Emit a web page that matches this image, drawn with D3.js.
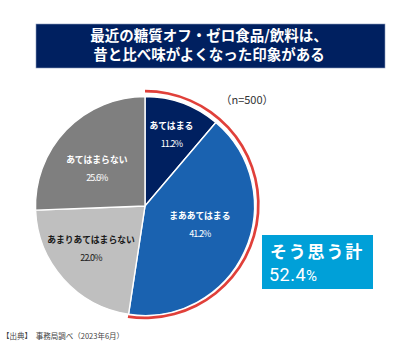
<!DOCTYPE html>
<html>
<head>
<meta charset="utf-8">
<script src="https://cdn.jsdelivr.net/npm/d3@7"></script>
<style>
  body { margin: 0; background: #fff; }
  svg { display: block; font-family: "Noto Sans CJK JP", "Noto Sans", sans-serif; }
</style>
</head>
<body>
<div id="graph"></div>
<script>
var W = 400, H = 354;

// data
var titleLines = ["最近の糖質オフ・ゼロ食品/飲料は、", "昔と比べ味がよくなった印象がある"];
var categories = ["あてはまる", "まああてはまる", "あまりあてはまらない", "あてはまらない"];
var values = [11.2, 41.2, 22.0, 25.6];
var totalLabel = "そう思う計";
var totalValue = 52.4;
var sampleNote = "（n=500）";
var sourceNote = "【出典】　事務局調べ（2023年6月）";

// style
var sliceColors = ["#002060", "#1a62b0", "#bfbfbf", "#7f7f7f"];
var labelColors = ["#fff", "#fff", "#1a1a1a", "#fff"];
var labelRadius = [0.70, 0.53, 0.63, 0.555];  // fraction of radius, tweaked by eye
var labelAngleShift = [0, -0.094, 0.058, -0.11];

var cx = 145, cy = 206, R = 109.5;

var svg = d3.select("#graph").append("svg")
  .attr("width", W)
  .attr("height", H);

// title box
svg.append("rect")
  .attr("x", 36).attr("y", 24)
  .attr("width", 349).attr("height", 44)
  .attr("fill", "#002060")
  .attr("stroke", "#8a9bbd").attr("stroke-width", 0.6);

svg.selectAll("text.title")
  .data(titleLines)
  .enter().append("text")
    .attr("class", "title")
    .attr("x", 209)
    .attr("y", function(d, i) { return 41 + i * 19; })
    .attr("text-anchor", "middle")
    .attr("fill", "#fff")
    .attr("font-size", 14.5)
    .attr("font-weight", "bold")
    .text(function(d) { return d; });

// pie
var pie = d3.pie().sort(null).value(function(d) { return d; });
var arcs = pie(values);
var arc = d3.arc().innerRadius(0).outerRadius(R);

var g = svg.append("g").attr("transform", "translate(" + cx + "," + cy + ")");

g.selectAll("path.slice")
  .data(arcs)
  .enter().append("path")
    .attr("class", "slice")
    .attr("d", arc)
    .attr("fill", function(d, i) { return sliceColors[i]; })
    .attr("stroke", "#fff")
    .attr("stroke-width", 1.4)
    .attr("stroke-linejoin", "round");

// red arc round the "agree" share
var agreeEnd = arcs[1].endAngle;
g.append("path")
  .attr("transform", "translate(0,-1.5)")
  .attr("d", d3.arc()({innerRadius: R + 2.5, outerRadius: R + 5.2, startAngle: 0, endAngle: agreeEnd}))
  .attr("fill", "#e0403a");

// slice labels
arcs.forEach(function(d, i) {
  var a = (d.startAngle + d.endAngle) / 2 + labelAngleShift[i];
  var r = R * labelRadius[i];
  var x = Math.sin(a) * r, y = -Math.cos(a) * r;
  var t = g.append("text")
    .attr("text-anchor", "middle")
    .attr("fill", labelColors[i])
    .attr("font-weight", "bold")
    .attr("font-size", 8.8);
  t.append("tspan")
    .attr("x", x).attr("y", y - 5.5)
    .text(categories[i]);
  t.append("tspan")
    .attr("x", x).attr("y", y + 12.5)
    .attr("font-size", 9)
    .attr("font-weight", "normal")
    .attr("letter-spacing", -0.9)
    .text(d3.format(".1f")(values[i]) + "%");
});

// n note
svg.append("text")
  .attr("x", 247).attr("y", 104)
  .attr("text-anchor", "middle")
  .attr("fill", "#333")
  .attr("font-size", 11)
  .text(sampleNote);

// total box
svg.append("rect")
  .attr("x", 262).attr("y", 235)
  .attr("width", 111).attr("height", 54)
  .attr("fill", "#00a0d8");

svg.append("text")
  .attr("x", 270).attr("y", 258)
  .attr("fill", "#fff")
  .attr("font-size", 17)
  .attr("font-weight", "bold")
  .attr("letter-spacing", 1.8)
  .text(totalLabel);

var tv = svg.append("text")
  .attr("x", 269).attr("y", 281)
  .attr("fill", "#fff")
  .attr("font-size", 18)
  .attr("font-family", "Roboto, 'Noto Sans', sans-serif")
  .attr("letter-spacing", 0.5)
  .text(d3.format(".1f")(totalValue));
tv.append("tspan")
  .attr("font-size", 15)
  .text("%");

// source
svg.append("text")
  .attr("x", 2).attr("y", 339)
  .attr("fill", "#444")
  .attr("font-size", 7.5)
  .attr("xml:space", "preserve")
  .text(sourceNote);
</script>
</body>
</html>
